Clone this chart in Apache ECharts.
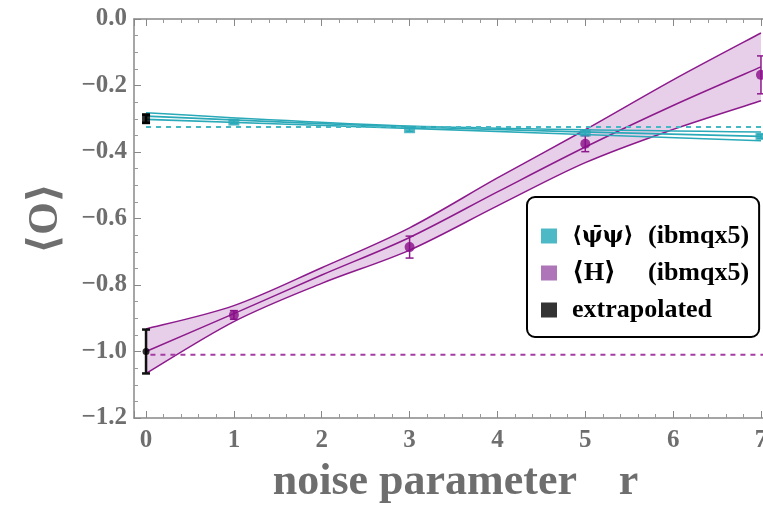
<!DOCTYPE html>
<html>
<head>
<meta charset="utf-8">
<script src="https://cdn.jsdelivr.net/npm/echarts@6/dist/echarts.min.js"></script>
<style>
html,body{margin:0;padding:0;background:#fff;}
#chart{width:763px;height:506px;}
</style>
</head>
<body>
<div id="chart"></div>
<script>
// measured points (noise parameter r)
var psiR = [1, 3, 5, 7];
var psiVal = [-0.31, -0.333, -0.343, -0.353];
var psiErr = [0.005, 0.005, 0.005, 0.006];
var hR = [1, 3, 5, 7];
var hVal = [-0.89, -0.686, -0.375, -0.168];
var hErr = [0.013, 0.033, 0.024, 0.057];
// extrapolated to r = 0 (psi, H)
var extR = [0, 0];
var extVal = [-0.30, -1.0];
var extErr = [0.012, 0.066];
// fit curves with band
var psiFitR = [0, 3, 7];
var psiFitMid = [-0.292, -0.325, -0.353];
var psiFitHi = [-0.282, -0.322, -0.340];
var psiFitLo = [-0.302, -0.329, -0.366];
var hFitR = [0, 1, 2, 3, 4, 5, 6, 7];
var hFitMid = [-1.0, -0.886, -0.77, -0.657, -0.52, -0.385, -0.26, -0.144];
var hFitHi = [-0.932, -0.862, -0.748, -0.628, -0.478, -0.333, -0.183, -0.042];
var hFitLo = [-1.066, -0.91, -0.795, -0.695, -0.562, -0.432, -0.332, -0.246];
// exact values
var exactPsi = -0.325;
var exactH = -1.01;

var SERIF = '"Liberation Serif","DejaVu Serif",serif';
var GRAY = '#6e6e6e';
var CYAN = '#2aa9b8';
var MAG = '#8c1a8c';

function zip(xs, ys){
	var out = [];
	for (var i = 0; i < xs.length; i++) out.push([xs[i], ys[i]]);
	return out;
}
function errData(xs, ys, es){
	var out = [];
	for (var i = 0; i < xs.length; i++) out.push([xs[i], ys[i], es[i]]);
	return out;
}
function errBars(color, width, cap){
	return function(params, api){
		var x = api.value(0), y = api.value(1), e = api.value(2);
		var top = api.coord([x, y + e]);
		var bot = api.coord([x, y - e]);
		var st = {stroke: color, lineWidth: width};
		return {type: 'group', children: [
			{type: 'line', shape: {x1: top[0], y1: top[1], x2: bot[0], y2: bot[1]}, style: st},
			{type: 'line', shape: {x1: top[0]-cap, y1: top[1], x2: top[0]+cap, y2: top[1]}, style: st},
			{type: 'line', shape: {x1: bot[0]-cap, y1: bot[1], x2: bot[0]+cap, y2: bot[1]}, style: st}
		]};
	};
}
// smooth path through screen points (catmull-rom as cubic beziers)
function curve(p, start){
	var d = start ? 'M' + p[0][0] + ' ' + p[0][1] : 'L' + p[0][0] + ' ' + p[0][1];
	for (var i = 0; i < p.length - 1; i++){
		var a = p[Math.max(i - 1, 0)], b = p[i], c = p[i + 1], e = p[Math.min(i + 2, p.length - 1)];
		d += ' C' + (b[0] + (c[0] - a[0]) / 6) + ' ' + (b[1] + (c[1] - a[1]) / 6) +
			' ' + (c[0] - (e[0] - b[0]) / 6) + ' ' + (c[1] - (e[1] - b[1]) / 6) +
			' ' + c[0] + ' ' + c[1];
	}
	return d;
}
function pts(api, xs, ys){
	var out = [];
	for (var i = 0; i < xs.length; i++) out.push(api.coord([xs[i], ys[i]]));
	return out;
}
function hFit(params, api){
	var hi = pts(api, hFitR, hFitHi), lo = pts(api, hFitR, hFitLo), mid = pts(api, hFitR, hFitMid);
	var clip = {type: 'rect', shape: params.coordSys};
	var line = {fill: 'none', stroke: MAG, lineWidth: 1.5};
	return {type: 'group', clipPath: clip, children: [
		{type: 'path', shape: {pathData: curve(hi, true) + ' ' + curve(lo.slice().reverse(), false) + ' Z'},
			style: {fill: '#e8cfe9', stroke: 'none'}},
		{type: 'path', shape: {pathData: curve(hi, true)}, style: line},
		{type: 'path', shape: {pathData: curve(lo, true)}, style: line},
		{type: 'path', shape: {pathData: curve(mid, true)}, style: line}
	]};
}

var chart = echarts.init(document.getElementById('chart'));
var xMin = -0.137, xMax = 7.023;
var tickFont = {fontFamily: SERIF, fontWeight: 'bold', fontSize: 25, color: GRAY};
var legendFont = {fontFamily: SERIF, fontWeight: 'bold', fontSize: 26, color: '#000', lineHeight: 26};

chart.setOption({
	animation: false,
	grid: {left: 134, right: 0, top: 19, bottom: 88, containLabel: false, outerBoundsMode: 'none'},
	xAxis: [{
		type: 'value', min: xMin, max: xMax, splitNumber: 7,
		axisLine: {onZero: false, lineStyle: {color: '#888', width: 1.5}},
		axisTick: {inside: true, length: 7, lineStyle: {color: '#888'}},
		minorTick: {show: true, splitNumber: 5, length: 4, lineStyle: {color: '#999'}},
		splitLine: {show: false},
		axisLabel: Object.assign({margin: 10, showMinLabel: false, showMaxLabel: false,
			formatter: function(v){ return Math.abs(v - Math.round(v)) < 1e-6 ? String(Math.round(v)) : ''; }}, tickFont),
		name: 'noise parameter   \u2009r', nameLocation: 'middle', nameGap: 43,
		nameTextStyle: {fontFamily: SERIF, fontWeight: 'bold', fontSize: 44, color: GRAY, padding: [0, 0, 0, 14]}
	}, {
		type: 'value', position: 'top', min: xMin, max: xMax, splitNumber: 7,
		axisLine: {onZero: false, lineStyle: {color: '#888', width: 1.5}},
		axisTick: {inside: true, length: 7, lineStyle: {color: '#888'}},
		minorTick: {show: true, splitNumber: 5, length: 4, lineStyle: {color: '#999'}},
		splitLine: {show: false}, axisLabel: {show: false}
	}],
	yAxis: {
		type: 'value', min: -1.2, max: 0, interval: 0.2,
		axisLine: {show: true, onZero: false, lineStyle: {color: '#888', width: 1.5}},
		axisTick: {show: true, inside: true, length: 7, lineStyle: {color: '#888'}},
		minorTick: {show: true, splitNumber: 4, length: 4, lineStyle: {color: '#999'}},
		splitLine: {show: false},
		axisLabel: Object.assign({margin: 7,
			formatter: function(v){ return Math.abs(v) < 1e-9 ? '0.0' : v.toFixed(1).replace('-', '\u2212'); }}, tickFont),
		name: '\u27e8O\u27e9', nameLocation: 'middle', nameGap: 67, nameRotate: 90,
		nameTextStyle: {fontFamily: SERIF, fontWeight: 'bold', fontSize: 42, color: GRAY}
	},
	legend: {
		orient: 'vertical', left: 527, top: 197,
		data: [
			{name: 'psi', itemStyle: {color: '#22a8b8'}},
			{name: 'H', itemStyle: {color: '#9a52a8'}},
			{name: 'extrapolated', itemStyle: {color: '#000'}}
		],
		icon: 'rect', itemWidth: 16, itemHeight: 15, itemGap: 11,
		backgroundColor: '#fff', borderColor: '#000', borderWidth: 2, borderRadius: 8,
		padding: [26, 10, 14, 14],
		selectedMode: false,
		textStyle: Object.assign({
			rich: {
				p: {fontFamily: '"DejaVu Serif",serif', fontWeight: 'bold', fontSize: 22, color: '#000', lineHeight: 26, width: 76, padding: [0, 0, 0, 10]},
				s: Object.assign({width: 76, padding: [0, 0, 0, 10]}, legendFont),
				t: Object.assign({}, legendFont),
				e: Object.assign({padding: [0, 0, 0, 10]}, legendFont)
			}
		}, legendFont),
		formatter: function(name){
			if (name === 'psi') return '{p|\u27e8\u03c8\u0304\u03c8\u27e9}{t|(ibmqx5)}';
			if (name === 'H') return '{s|\u27e8H\u27e9}{t|(ibmqx5)}';
			return '{e|extrapolated}';
		}
	},
	series: [
		// H fit with band
		{type: 'custom', renderItem: hFit, data: [[0, 0]], z: 1, silent: true},
		// psi fit lines
		{type: 'line', data: zip(psiFitR, psiFitHi), smooth: 0.3, symbol: 'none', z: 3, lineStyle: {color: CYAN, width: 1.6}},
		{type: 'line', data: zip(psiFitR, psiFitMid), smooth: 0.3, symbol: 'none', z: 3, lineStyle: {color: CYAN, width: 1.6}},
		{type: 'line', data: zip(psiFitR, psiFitLo), smooth: 0.3, symbol: 'none', z: 3, lineStyle: {color: CYAN, width: 1.6}},
		// exact values
		{type: 'line', data: [[0, exactPsi], [xMax, exactPsi]], symbol: 'none', z: 3,
			lineStyle: {color: '#45b8c4', width: 2, type: [5, 5]}},
		{type: 'line', data: [[0.05, exactH], [xMax, exactH]], symbol: 'none', z: 3,
			lineStyle: {color: '#a43ca4', width: 2, type: [5, 5]}},
		// error bars
		{type: 'custom', renderItem: errBars(CYAN, 1.5, 4), data: errData(psiR, psiVal, psiErr), z: 4},
		{type: 'custom', renderItem: errBars(MAG, 1.5, 4), data: errData(hR, hVal, hErr), z: 4},
		{type: 'custom', renderItem: errBars('#111', 2.5, 4), data: errData(extR, extVal, extErr), z: 5},
		// points
		{name: 'psi', type: 'scatter', data: zip(psiR, psiVal), symbol: 'rect', symbolSize: [11, 7], z: 5,
			itemStyle: {color: CYAN}},
		{name: 'H', type: 'scatter', data: zip(hR, hVal), symbol: 'circle', symbolSize: 10, z: 5,
			itemStyle: {color: '#880c88'}},
		{name: 'extrapolated', type: 'scatter', z: 6, itemStyle: {color: '#000'},
			data: [
				{value: [extR[0], extVal[0]], symbol: 'rect', symbolSize: [8, 11]},
				{value: [extR[1], extVal[1]], symbol: 'circle', symbolSize: 7}
			]}
	]
});
</script>
</body>
</html>
